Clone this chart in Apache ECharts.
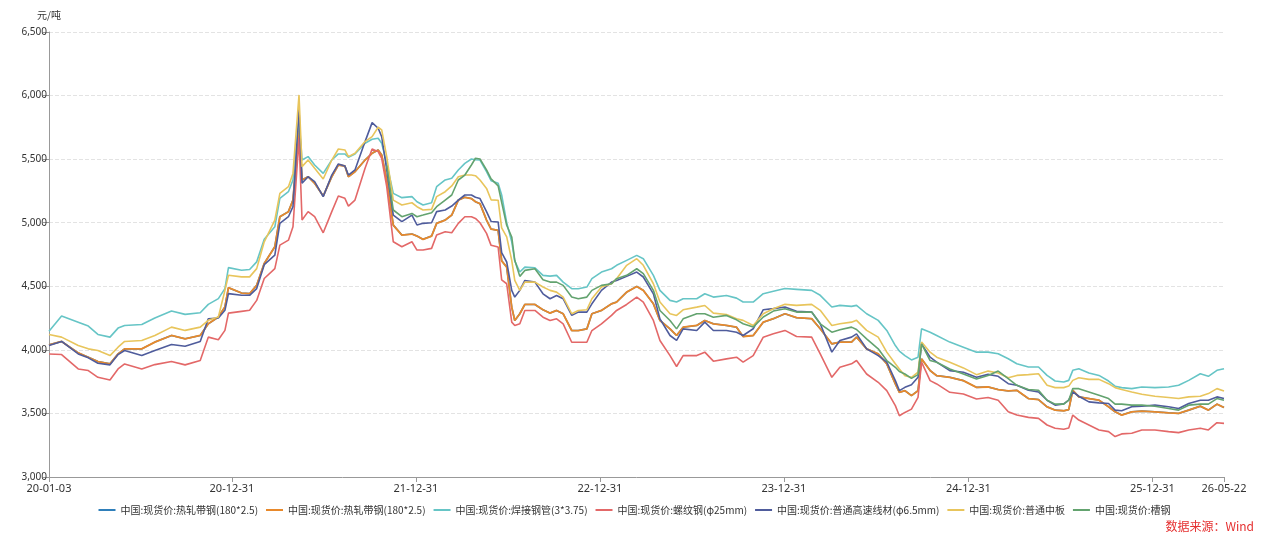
<!DOCTYPE html>
<html>
<head>
<meta charset="utf-8">
<script src="https://cdn.jsdelivr.net/npm/echarts@6/dist/echarts.min.js"></script>
<style>
html,body{margin:0;padding:0;background:#fff;}
#main{width:1269px;height:538px;}
</style>
</head>
<body>
<div id="main"></div>
<script>
const dates = ['2020-01-03','2020-01-28','2020-03-01','2020-03-21','2020-04-09','2020-05-03','2020-05-19','2020-06-01','2020-07-05','2020-07-31',
'2020-09-02','2020-09-29','2020-10-29','2020-11-14','2020-12-04','2020-12-17','2020-12-24','2021-01-19','2021-02-04','2021-02-18',
'2021-03-05','2021-03-26','2021-04-05','2021-04-22','2021-05-01','2021-05-13','2021-05-19','2021-05-31','2021-06-13','2021-06-30',
'2021-07-17','2021-07-30','2021-08-12','2021-08-19','2021-09-01','2021-09-21','2021-10-05','2021-10-17','2021-10-24','2021-11-03',
'2021-11-16','2021-12-03','2021-12-23','2022-01-02','2022-01-14','2022-01-31','2022-02-10','2022-02-27','2022-03-12','2022-03-25',
'2022-04-07','2022-04-20','2022-04-28','2022-05-07','2022-05-20','2022-05-29','2022-06-12','2022-06-19','2022-06-29','2022-07-09',
'2022-07-15','2022-07-25','2022-08-04','2022-08-24','2022-09-09','2022-09-23','2022-10-06','2022-10-19','2022-11-05','2022-11-18',
'2022-12-05','2022-12-15','2023-01-03','2023-01-23','2023-02-02','2023-02-22','2023-03-14','2023-03-27','2023-04-16','2023-04-29',
'2023-05-19','2023-06-01','2023-06-14','2023-07-11','2023-07-27','2023-08-13','2023-09-08','2023-09-28','2023-10-11','2023-10-31',
'2023-11-20','2023-12-10','2024-01-02','2024-01-25','2024-02-24','2024-03-12','2024-04-04','2024-04-20','2024-05-13','2024-05-23',
'2024-06-12','2024-07-05','2024-07-22','2024-08-08','2024-08-16','2024-08-27','2024-09-09','2024-09-22','2024-09-29','2024-10-16',
'2024-10-29','2024-11-24','2024-12-21','2025-01-16','2025-02-08','2025-02-28','2025-03-20','2025-04-06','2025-04-29','2025-05-19',
'2025-06-05','2025-06-21','2025-07-08','2025-07-18','2025-07-26','2025-08-07','2025-08-27','2025-09-16','2025-10-05','2025-10-18',
'2025-10-31','2025-11-20','2025-12-10','2026-01-05','2026-02-01','2026-02-21','2026-03-13','2026-04-05','2026-04-21','2026-05-08',
'2026-05-22'];

// 热轧带钢(180*2.5) (both legend entries share the same values)
const hotStrip = [4040,4066,3976,3942,3908,3890,3968,4008,4008,4061,
4113,4087,4113,4205,4258,4337,4489,4447,4442,4508,
4680,4811,5047,5087,5178,5750,5336,5362,5310,5210,
5362,5454,5446,5362,5401,5493,5546,5572,5533,5336,
4981,4903,4911,4895,4869,4895,4995,5021,5060,5178,
5200,5190,5165,5150,5021,4950,4940,4700,4651,4336,
4231,4284,4357,4357,4315,4289,4310,4284,4152,4152,
4165,4284,4310,4362,4376,4454,4499,4468,4362,4231,
4165,4113,4178,4192,4231,4205,4192,4178,4105,4113,
4218,4245,4284,4253,4245,4166,4047,4061,4061,4100,
4008,3968,3890,3732,3666,3679,3640,3679,3929,3837,
3797,3784,3758,3705,3708,3688,3677,3682,3617,3609,
3552,3526,3521,3530,3682,3630,3617,3604,3552,3513,
3487,3513,3518,3513,3505,3500,3526,3557,3526,3573,
3547];

// 焊接钢管(3*3.75)
const weldedPipe = [4147,4266,4218,4187,4121,4100,4171,4192,4200,4250,
4305,4279,4292,4358,4403,4482,4647,4626,4632,4692,
4870,4968,5192,5244,5336,5820,5493,5520,5454,5388,
5493,5541,5541,5515,5541,5625,5656,5664,5625,5467,
5231,5197,5205,5165,5139,5157,5283,5336,5349,5415,
5467,5501,5495,5493,5401,5330,5310,5218,5000,4850,
4700,4612,4651,4646,4586,4580,4586,4533,4481,4481,
4494,4560,4612,4638,4665,4704,4743,4717,4586,4468,
4389,4376,4402,4402,4441,4415,4428,4407,4376,4376,
4442,4461,4482,4476,4468,4429,4337,4350,4342,4350,
4284,4232,4153,4034,3990,3955,3921,3942,4166,4139,
4113,4061,4021,3982,3982,3969,3930,3891,3865,3865,
3799,3755,3747,3760,3839,3852,3818,3799,3755,3714,
3703,3695,3708,3703,3708,3721,3760,3812,3792,3839,
3852];

// 螺纹钢(φ25mm)
const rebar = [3968,3963,3850,3837,3784,3763,3850,3889,3850,3884,
3908,3882,3916,4100,4079,4153,4289,4303,4311,4389,
4561,4639,4824,4863,4968,5665,5021,5087,5047,4921,
5087,5210,5192,5131,5178,5428,5580,5559,5507,5283,
4850,4811,4850,4785,4785,4798,4903,4929,4921,4995,
5047,5047,5034,5000,4916,4822,4809,4550,4520,4218,
4192,4205,4310,4310,4257,4231,4244,4205,4060,4060,
4060,4152,4205,4271,4310,4357,4415,4376,4231,4074,
3955,3869,3955,3955,3982,3911,3929,3942,3903,3955,
4100,4126,4153,4105,4100,3968,3784,3863,3890,3916,
3810,3745,3679,3561,3482,3508,3534,3626,3903,3758,
3732,3666,3653,3613,3625,3604,3513,3487,3469,3461,
3409,3383,3375,3385,3487,3448,3409,3370,3357,3318,
3339,3344,3370,3370,3357,3349,3370,3383,3370,3427,
3422];

// 普通高速线材(φ6.5mm)
const wireRod = [4034,4066,3968,3937,3895,3882,3963,3995,3955,3995,
4042,4029,4066,4245,4250,4311,4442,4429,4429,4482,
4670,4745,4995,5047,5126,5892,5310,5362,5323,5205,
5375,5462,5446,5375,5415,5638,5787,5743,5677,5415,
5060,5008,5060,4982,4995,5000,5087,5100,5131,5178,
5218,5218,5200,5190,5087,5010,5006,4765,4691,4468,
4415,4468,4546,4533,4441,4402,4428,4402,4271,4297,
4297,4362,4468,4533,4546,4578,4612,4573,4441,4244,
4113,4074,4165,4152,4218,4152,4152,4139,4113,4166,
4316,4324,4337,4303,4297,4205,3982,4074,4100,4126,
4008,3955,3903,3758,3679,3705,3726,3784,4047,3942,
3903,3837,3824,3784,3807,3792,3734,3721,3682,3669,
3604,3565,3575,3604,3669,3635,3591,3583,3578,3526,
3521,3552,3557,3565,3552,3539,3578,3604,3604,3630,
3617];

// 普通中板
const mediumPlate = [4121,4100,4034,4008,3995,3955,4021,4066,4074,4113,
4179,4153,4179,4232,4258,4468,4587,4574,4574,4639,
4850,5021,5231,5283,5388,6005,5441,5493,5428,5344,
5493,5580,5572,5520,5546,5638,5677,5751,5730,5520,
5178,5139,5157,5126,5100,5105,5205,5244,5289,5362,
5375,5375,5370,5336,5270,5180,5177,4960,4888,4704,
4546,4468,4533,4533,4494,4468,4454,4415,4284,4310,
4315,4402,4494,4520,4559,4665,4717,4665,4520,4376,
4284,4271,4315,4336,4349,4289,4278,4244,4232,4192,
4284,4324,4358,4350,4358,4311,4192,4205,4218,4232,
4153,4100,3982,3890,3850,3797,3784,3824,4061,3982,
3942,3903,3858,3805,3833,3818,3781,3799,3805,3812,
3721,3703,3703,3715,3760,3781,3768,3768,3734,3703,
3688,3669,3651,3635,3625,3617,3630,3635,3656,3695,
3677];

// 槽钢
const channelSteel = [null,null,null,null,null,null,null,null,null,null,
null,null,null,null,null,null,null,null,null,null,
null,null,null,null,null,null,null,null,null,null,
null,null,null,null,null,null,null,null,null,5450,
5100,5047,5073,5047,5060,5079,5126,5178,5218,5336,
5375,5454,5507,5501,5415,5345,5290,5160,4980,4888,
4704,4578,4625,4638,4552,4533,4533,4507,4415,4402,
4415,4468,4507,4520,4560,4586,4638,4599,4468,4310,
4231,4165,4244,4284,4284,4257,4271,4236,4205,4179,
4258,4305,4324,4297,4297,4205,4139,4158,4179,4160,
4087,4008,3916,3863,3830,3810,3776,3805,4047,3916,
3903,3850,3810,3771,3799,3833,3773,3721,3688,3682,
3604,3573,3573,3604,3695,3695,3669,3643,3617,3573,
3573,3565,3565,3557,3539,3526,3565,3573,3573,3617,
3604];

const seriesNames = ['中国:现货价:热轧带钢(180*2.5)','中国:现货价:热轧带钢(180*2.5)','中国:现货价:焊接钢管(3*3.75)',
  '中国:现货价:螺纹钢(φ25mm)','中国:现货价:普通高速线材(φ6.5mm)','中国:现货价:普通中板','中国:现货价:槽钢'];
const seriesValues = [hotStrip, hotStrip, weldedPipe, rebar, wireRod, mediumPlate, channelSteel];
const seriesColors = ['#2f7fba','#e8892b','#66c5c6','#e36868','#4f5c9c','#e8c55c','#63a36f'];
const xTickDates = ['2020-01-03','2020-12-31','2021-12-31','2022-12-31','2023-12-31','2024-12-31','2025-12-31','2026-05-22'];

function ts(s){ const p = s.split('-'); return Date.UTC(+p[0], +p[1]-1, +p[2]); }
function pad(n){ return (n<10?'0':'')+n; }
function fmtDate(v){ const d = new Date(v); return pad(d.getUTCFullYear()%100)+'-'+pad(d.getUTCMonth()+1)+'-'+pad(d.getUTCDate()); }

const tickTs = xTickDates.map(ts);
const dateTs = dates.map(ts);
// unique internal ids so duplicate display names get separate legend entries
const uniqNames = seriesNames.map((n, i) => n + '\u200B'.repeat(i));

const chart = echarts.init(document.getElementById('main'), null, {renderer:'canvas'});
const series = seriesNames.map((name, i) => ({
  name: uniqNames[i],
  type: 'line',
  showSymbol: false,
  symbol: 'none',
  smooth: false,
  connectNulls: false,
  lineStyle: {width: i === 1 ? 1.8 : 1.6, color: seriesColors[i]},
  itemStyle: {color: seriesColors[i]},
  data: seriesValues[i].map((v, j) => [dateTs[j], v]),
  z: 2 + i
}));

chart.setOption({
  backgroundColor: '#fff',
  animation: false,
  grid: {left: 49, right: 45, top: 32, bottom: 61, containLabel: false},
  legend: {
    left: 'center',
    top: 500,
    icon: 'rect',
    itemWidth: 17,
    itemHeight: 2,
    itemGap: 8,
    textStyle: {fontSize: 10, color: '#333', fontFamily: 'Noto Sans CJK SC'},
    formatter: n => n.replace(/\u200B/g, ''),
    data: uniqNames.map(n => ({name: n}))
  },
  xAxis: {
    type: 'value',
    min: tickTs[0],
    max: tickTs[tickTs.length - 1],
    axisLine: {lineStyle: {color: '#999'}},
    axisTick: {show: true, length: 5, customValues: tickTs, lineStyle: {color: '#999'}},
    axisLabel: {customValues: tickTs, formatter: fmtDate, fontSize: 11, color: '#333', margin: 6, fontFamily: 'Noto Sans'},
    splitLine: {show: false}
  },
  yAxis: {
    type: 'value',
    min: 3000,
    max: 6500,
    interval: 500,
    name: '元/吨',
    nameGap: 12,
    nameTextStyle: {fontSize: 10, color: '#333', fontFamily: 'Noto Sans CJK SC'},
    axisLine: {show: true, lineStyle: {color: '#999'}},
    axisTick: {show: true, length: 6, lineStyle: {color: '#999'}},
    axisLabel: {fontSize: 10, color: '#333', margin: 2, fontFamily: 'Noto Sans',
      formatter: v => v.toLocaleString('en-US')},
    splitLine: {show: true, lineStyle: {type: 'dashed', color: '#e3e3e3'}}
  },
  graphic: [{
    type: 'text',
    right: 15,
    top: 520,
    style: {text: '数据来源：Wind', fill: '#e53030', fontSize: 12, fontFamily: 'Noto Sans CJK SC'}
  }],
  series: series
});
</script>
</body>
</html>
